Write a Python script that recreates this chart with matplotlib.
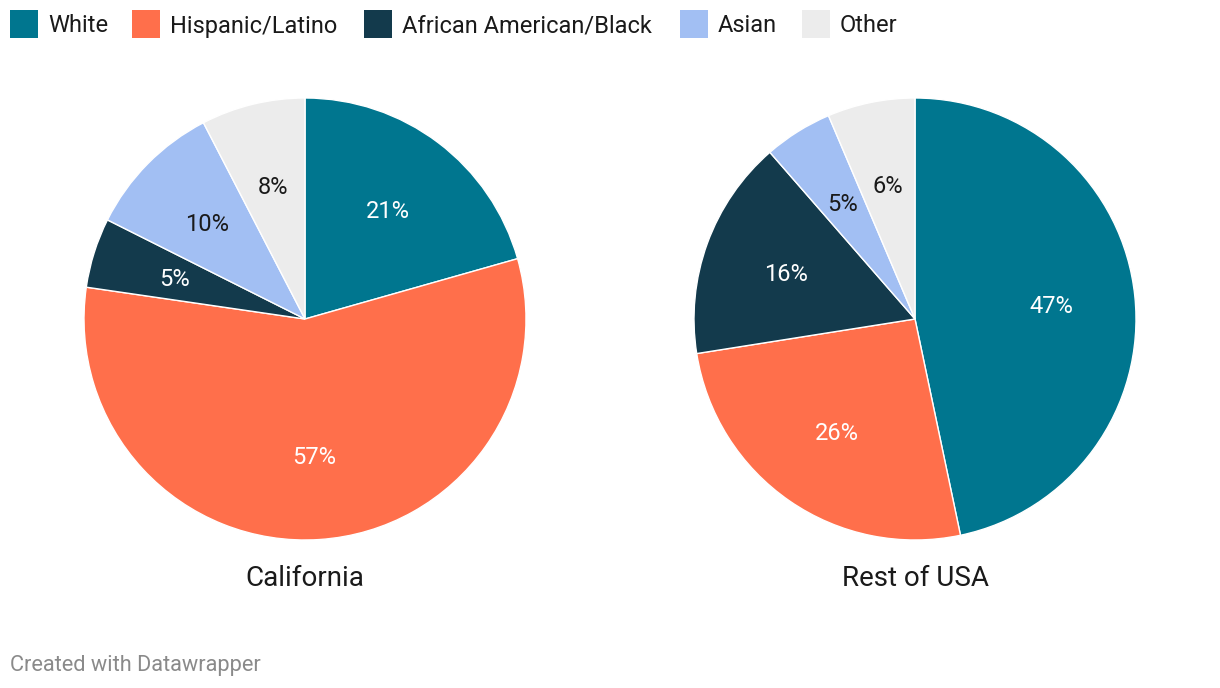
import matplotlib.pyplot as plt
from matplotlib.patches import Rectangle

plt.rcParams['font.family'] = ['Roboto', 'DejaVu Sans']

groups = ['White', 'Hispanic/Latino', 'African American/Black', 'Asian', 'Other']
colors = ['#00768f', '#ff6f4b', '#133a4c', '#a2bff3', '#ececec']
label_colors = ['white', 'white', 'white', '#1a1a1a', '#1a1a1a']

# shares (%); labels show them rounded
california = [20.6, 56.7, 5.1, 10.0, 7.6]
rest_of_usa = [46.7, 25.8, 16.1, 5.0, 6.4]
titles = ['California', 'Rest of USA']

W, H = 1220, 688
fig = plt.figure(figsize=(W / 100, H / 100), dpi=100)
ax = fig.add_axes([0, 0, 1, 1])

centers = [(305, H - 319), (915, H - 319)]
radius = 221

for vals, c, title in zip([california, rest_of_usa], centers, titles):
    wedges, texts, autotexts = ax.pie(
        vals, colors=colors, startangle=90, counterclock=False,
        center=c, radius=radius, frame=True,
        autopct='%d%%', pctdistance=0.62,
        wedgeprops=dict(edgecolor='white', linewidth=1))
    for t, v, lc in zip(autotexts, vals, label_colors):
        t.set_text('%d%%' % round(v))
        t.set_color(lc)
        t.set_fontsize(17)
        x, y = t.get_position()
        t.set_position((x, y - 2))
    ax.text(c[0], H - 578, title, ha='center', va='center', fontsize=20, color='#1a1a1a')

ax.set_xlim(0, W)
ax.set_ylim(0, H)
ax.set_aspect('auto')
ax.axis('off')

# legend
sq_x = [10, 132, 364, 680, 802]
for x, g, col in zip(sq_x, groups, colors):
    ax.add_patch(Rectangle((x, H - 38), 28, 28, facecolor=col, edgecolor='none'))
    ax.text(x + 38, H - 26, g, ha='left', va='center', fontsize=17, color='#1a1a1a')

ax.text(10, H - 666, 'Created with Datawrapper', ha='left', va='center', fontsize=15.7, color='#8a8a8a')

fig.savefig('out.png', dpi=100)
